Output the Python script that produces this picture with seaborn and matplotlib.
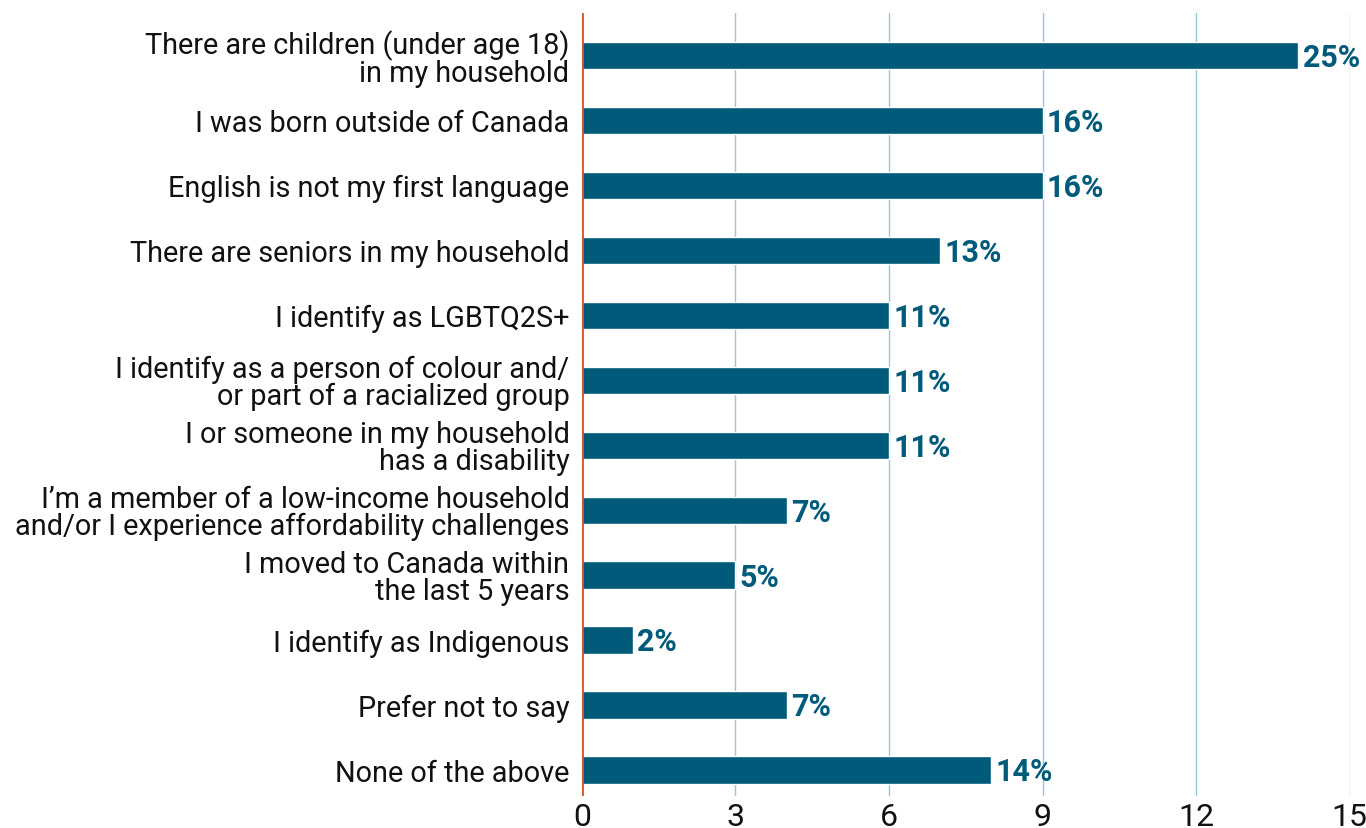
import math
import matplotlib
matplotlib.use("Agg")
import matplotlib.pyplot as plt
import seaborn as sns
import pandas as pd

# Survey responses: number of respondents selecting each statement
categories = [
    "There are children (under age 18)\nin my household",
    "I was born outside of Canada",
    "English is not my first language",
    "There are seniors in my household",
    "I identify as LGBTQ2S+",
    "I identify as a person of colour and/\nor part of a racialized group",
    "I or someone in my household\nhas a disability",
    "I\u2019m a member of a low-income household\nand/or I experience affordability challenges",
    "I moved to Canada within\nthe last 5 years",
    "I identify as Indigenous",
    "Prefer not to say",
    "None of the above",
]
counts = [14, 9, 9, 7, 6, 6, 6, 4, 3, 1, 4, 8]
respondents = 56
x_ticks = [0, 3, 6, 9, 12, 15]

BAR = "#005a7a"
GRID = "#94c8dc"
ZERO = "#d4542c"
FONT = "Roboto"

df = pd.DataFrame({"category": categories, "count": counts})

sns.set_theme(style="white")
plt.rcParams["font.family"] = [FONT, "DejaVu Sans"]

fig = plt.figure(figsize=(13.66, 8.29), dpi=100)
ax = fig.add_axes([0.426, 0.0386, 0.562, 0.945])

sns.barplot(data=df, x="count", y="category", orient="h", color=BAR,
            saturation=1, width=0.42, ax=ax, zorder=3)

ax.set_xlim(0, 15)
ax.set_ylim(11.4, -0.66)
ax.set_xticks(x_ticks)
ax.set_xticklabels([str(t) for t in x_ticks], fontsize=23, color="#111111")
ax.tick_params(axis="x", length=0, pad=4)
ax.tick_params(axis="y", length=0, pad=9)
for lbl in ax.get_yticklabels():
    lbl.set_fontsize(20.8)
    lbl.set_color("#111111")
    lbl.set_linespacing(0.95)
    lbl.set_horizontalalignment("right")
    lbl.set_multialignment("right")

ax.set_xlabel("")
ax.set_ylabel("")
for s in ax.spines.values():
    s.set_visible(False)

for t in x_ticks[1:]:
    ax.axvline(t, color=GRID, lw=1, zorder=1)
ax.axvline(0, color=ZERO, lw=2, zorder=4)

for i, c in enumerate(counts):
    pct = math.floor(c * 100 / respondents + 0.5)
    ax.annotate(f"{pct}%", xy=(c, i), xytext=(3, -1), textcoords="offset points",
                va="center", ha="left", fontsize=22, fontweight="bold",
                color=BAR, zorder=5)

fig.savefig("out.png", dpi=100)
